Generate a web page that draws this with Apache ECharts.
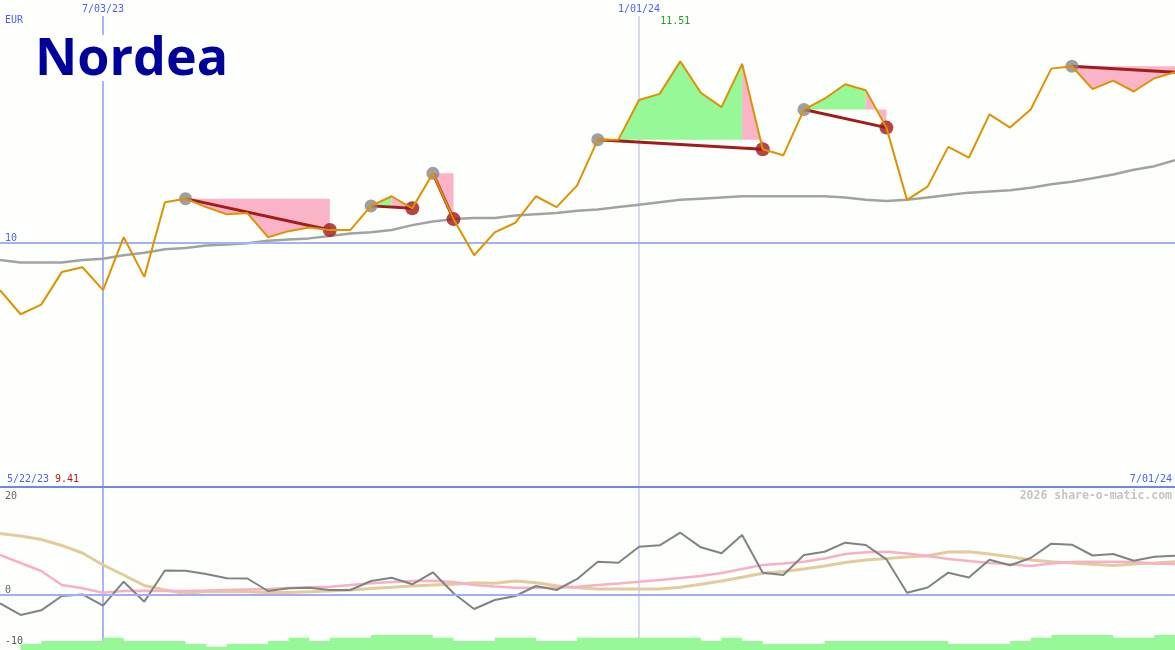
<!DOCTYPE html>
<html><head><meta charset="utf-8">
<script src="https://cdn.jsdelivr.net/npm/echarts@6/dist/echarts.min.js"></script>
<style>html,body{margin:0;padding:0;background:#fdfffd;}#c{width:1175px;height:650px;}</style>
</head><body><div id="c"></div>
<script>
// ---------- data ----------
const dates = ['5/29/23','6/05/23','6/12/23','6/19/23','6/26/23','7/03/23','7/10/23','7/17/23','7/24/23','7/31/23',
 '8/07/23','8/14/23','8/21/23','8/28/23','9/04/23','9/11/23','9/18/23','9/25/23','10/02/23','10/09/23',
 '10/16/23','10/23/23','10/30/23','11/06/23','11/13/23','11/20/23','11/27/23','12/04/23','12/11/23','12/18/23',
 '12/25/23','1/01/24','1/08/24','1/15/24','1/22/24','1/29/24','2/05/24','2/12/24','2/19/24','2/26/24',
 '3/04/24','3/11/24','3/18/24','3/25/24','4/01/24','4/08/24','4/15/24','4/22/24','4/29/24','5/06/24',
 '5/13/24','5/20/24','5/27/24','6/03/24','6/10/24','6/17/24','6/24/24','7/01/24'];
const price = [9.61,9.41,9.49,9.76,9.80,9.61,10.05,9.72,10.34,10.37,
 10.30,10.24,10.25,10.05,10.10,10.13,10.11,10.11,10.31,10.39,
 10.29,10.58,10.20,9.90,10.09,10.17,10.39,10.30,10.48,10.86,
 10.86,11.19,11.24,11.51,11.25,11.13,11.49,10.78,10.73,11.11,
 11.20,11.32,11.27,10.96,10.36,10.47,10.80,10.71,11.07,10.96,
 11.11,11.45,11.47,11.28,11.35,11.26,11.37,11.42];
const movingAvg = [9.86,9.84,9.84,9.84,9.86,9.87,9.90,9.92,9.95,9.96,
 9.98,9.99,10.00,10.02,10.03,10.04,10.06,10.08,10.09,10.11,
 10.15,10.18,10.20,10.21,10.21,10.23,10.24,10.25,10.27,10.28,
 10.30,10.32,10.34,10.36,10.37,10.38,10.39,10.39,10.39,10.39,
 10.39,10.38,10.36,10.35,10.36,10.38,10.40,10.42,10.43,10.44,
 10.46,10.49,10.51,10.54,10.57,10.61,10.64,10.69];
const oscGray = [-1.78,-4.28,-3.28,-0.21,0.11,-2.29,2.85,-1.43,5.25,5.20,
 4.50,3.58,3.53,0.86,1.43,1.56,1.07,1.07,3.00,3.70,
 2.29,4.86,0.36,-3.00,-1.07,-0.21,1.93,1.07,3.43,7.13,
 6.92,10.34,10.64,13.34,10.21,8.93,12.85,4.78,4.28,8.57,
 9.27,11.20,10.71,7.64,0.49,1.61,4.78,3.75,7.56,6.36,
 7.92,10.99,10.77,8.46,8.78,7.34,8.20,8.42];
const oscPink = [8.57,6.85,5.14,2.14,1.43,0.49,0.86,0.90,0.86,0.86,
 0.96,1.07,1.18,1.28,1.50,1.65,1.78,2.14,2.51,2.78,
 3.00,3.06,2.78,2.14,1.82,1.56,1.56,1.56,1.78,2.14,
 2.46,2.85,3.21,3.64,4.07,4.71,5.57,6.42,6.75,7.13,
 7.82,8.78,9.14,9.27,8.89,8.35,7.71,7.28,6.85,6.57,
 6.21,6.75,7.07,7.13,7.13,7.07,6.75,6.64];
const oscTan = [13.17,12.63,11.88,10.60,8.99,6.42,4.28,2.03,1.07,0.32,
 0.75,0.71,0.71,0.54,0.54,0.71,0.86,1.07,1.39,1.65,
 1.93,2.14,2.29,2.63,2.51,3.00,2.63,1.99,1.56,1.28,
 1.28,1.28,1.28,1.65,2.29,3.00,3.79,4.65,5.03,5.57,
 6.21,6.96,7.49,7.82,8.14,8.42,9.21,9.27,8.78,8.20,
 7.49,7.13,6.85,6.57,6.32,6.64,6.85,7.13];
const volume = [0,2.0,3.0,3.0,3.0,4.1,3.0,3.0,3.0,2.0,
 1.1,2.0,2.0,3.0,4.1,3.0,4.1,4.1,5.0,5.0,
 5.0,4.1,3.0,3.0,4.1,4.1,3.0,3.0,4.1,4.1,
 4.1,4.1,4.1,4.1,3.0,4.1,3.0,2.0,2.0,2.0,
 3.0,3.0,3.0,3.0,3.0,3.0,2.0,2.0,2.0,3.0,
 4.1,5.0,5.0,5.0,4.1,4.1,5.0,5.0];
const buyIdx  = [9, 18, 21, 29, 39, 52];
const exitIdx = [16, 20, 22, 37, 43];       // last trade still open
const dateMarks = ['7/03/23', '1/01/24'];
const priceTicks = [10];
const oscTicks = [20, 0];
const oscLowTick = [-10];
const currency = 'EUR';
const rangeStart = '5/22/23';
const rangeEnd = '7/01/24';
const logoText = 'Nordea';
const credit = '2026 share-o-matic.com';

// ---------- styles ----------
const BLUE_TXT = '#4f5ff0', MONO = 'DejaVu Sans Mono';
const GREEN = '#96f896', PINK = '#f9b4c8';

const last = dates.length - 1;
const exits = exitIdx.concat([last]);
const runs = [];
buyIdx.forEach((b, t) => {
  const s = exits[t], entry = price[b];
  let start = b, flag = null;
  for (let k = b; k < s; k++) {
    const f = price[k + 1] >= entry ? 1 : 0;
    if (flag === null) { flag = f; start = k; }
    else if (f !== flag) { runs.push([start, k, entry, flag]); start = k; flag = f; }
  }
  runs.push([start, s, entry, flag]);
});
const trades = buyIdx.map((b, t) => [b, exits[t]]);

const chart = echarts.init(document.getElementById('c'), null, {renderer: 'canvas', width: 1175, height: 650});

const hiddenAxisParts = {splitLine: {show: false}, axisLine: {show: false}, axisTick: {show: false}};
const option = {
  animation: false,
  backgroundColor: '#fdfffd',
  grid: [
    {left: 0, right: 0, top: 0, height: 487},
    {left: 0, right: 0, top: 487, height: 163}
  ],
  xAxis: [
    {type: 'category', data: dates, boundaryGap: false, gridIndex: 0, show: false},
    {type: 'category', data: dates, boundaryGap: false, gridIndex: 1, show: false}
  ],
  yAxis: [
    Object.assign({type: 'value', gridIndex: 0, position: 'left', min: 7.975, max: 12.02,
     axisLabel: {inside: true, customValues: priceTicks, verticalAlign: 'bottom', margin: 5,
                 color: BLUE_TXT, fontFamily: MONO, fontSize: 10}}, hiddenAxisParts),
    Object.assign({type: 'value', gridIndex: 1, position: 'left', min: -11.78, max: 23.13,
     axisLabel: {inside: true, customValues: oscTicks, verticalAlign: 'bottom', margin: 5,
                 color: '#666', fontFamily: MONO, fontSize: 10}}, hiddenAxisParts),
    Object.assign({type: 'value', gridIndex: 1, position: 'left', offset: 0, min: -11.78, max: 23.13,
     axisLabel: {inside: true, customValues: oscLowTick, verticalAlign: 'middle', margin: 5,
                 color: '#555', fontFamily: MONO, fontSize: 10}}, hiddenAxisParts),
    {type: 'value', gridIndex: 1, position: 'right', min: 0, max: 54.33, show: false}
  ],
  series: [
    {type: 'custom', xAxisIndex: 0, yAxisIndex: 0, z: 1, silent: true, data: runs,
     renderItem(params, api) {
       const a = api.value(0), b = api.value(1), entry = api.value(2), f = api.value(3);
       const pts = [api.coord([a, entry])];
       for (let k = a; k <= b; k++) pts.push(api.coord([k, price[k]]));
       pts.push(api.coord([b, entry]));
       return {type: 'polygon', shape: {points: pts}, style: {fill: f ? GREEN : PINK}};
     }},
    {type: 'line', xAxisIndex: 0, yAxisIndex: 0, z: 2, data: movingAvg, symbol: 'none',
     lineStyle: {color: '#a2a2a2', width: 2.5},
     markLine: {silent: true, symbol: ['none', 'none'], label: {show: false},
       lineStyle: {color: '#a4b2f2', width: 2, type: 'solid'}, data: priceTicks.map(v => ({yAxis: v}))}},
    {type: 'custom', xAxisIndex: 0, yAxisIndex: 0, z: 3, silent: true, data: trades,
     renderItem(params, api) {
       const b = api.value(0), s = api.value(1);
       const p1 = api.coord([b, price[b]]), p2 = api.coord([s, price[s]]);
       return {type: 'line', shape: {x1: p1[0], y1: p1[1], x2: p2[0], y2: p2[1]},
               style: {stroke: '#a21c1c', lineWidth: 3}};
     }},
    {type: 'scatter', xAxisIndex: 0, yAxisIndex: 0, z: 4, symbolSize: 13,
     itemStyle: {color: '#878787'}, data: buyIdx.map(i => [i, price[i]])},
    {type: 'scatter', xAxisIndex: 0, yAxisIndex: 0, z: 4, symbolSize: 14,
     itemStyle: {color: '#a01818'}, data: exitIdx.map(i => [i, price[i]])},
    {type: 'line', xAxisIndex: 0, yAxisIndex: 0, z: 5, data: price, symbol: 'none',
     lineStyle: {color: '#df9200', width: 2}},
    // lower panel
    {type: 'line', xAxisIndex: 1, yAxisIndex: 3, z: 1, data: volume, step: 'end', symbol: 'none',
     lineStyle: {width: 0}, areaStyle: {color: GREEN, opacity: 1}},
    {type: 'line', xAxisIndex: 1, yAxisIndex: 1, z: 2, data: oscTan, symbol: 'none',
     lineStyle: {color: '#e3cc9c', width: 3}},
    {type: 'line', xAxisIndex: 1, yAxisIndex: 1, z: 3, data: oscPink, symbol: 'none',
     lineStyle: {color: '#f9b0c6', width: 2.5}},
    {type: 'line', xAxisIndex: 1, yAxisIndex: 1, z: 4, data: oscGray, symbol: 'none',
     lineStyle: {color: '#828282', width: 2},
     markLine: {silent: true, symbol: ['none', 'none'], label: {show: false},
       lineStyle: {color: '#a2aef2', width: 2, type: 'solid'}, data: [{yAxis: 0}]}}
  ]
};
chart.setOption(option);

// ---------- overlay texts & vertical date lines ----------
const W = 1175, H = 650;
const graphics = [];
dateMarks.forEach((d, n) => {
  const x = Math.round(chart.convertToPixel({xAxisIndex: 0}, d));
  graphics.push({type: 'line', z: 0, silent: true,
    shape: {x1: x, y1: 16, x2: x, y2: H},
    style: {stroke: n === 0 ? '#a6b6f4' : '#aeb4e4', lineWidth: n === 0 ? 2 : 1}});
  graphics.push({type: 'text', z: 20, x: x, y: 9,
    style: {text: d, fill: BLUE_TXT, font: '10px ' + MONO, align: 'center', verticalAlign: 'middle'}});
});
const iMax = price.indexOf(Math.max(...price));
const iMin = price.indexOf(Math.min(...price));
const xMax = chart.convertToPixel({xAxisIndex: 0}, iMax);
graphics.push(
  {type: 'rect', z: 15, silent: true, shape: {x: 30, y: 35, width: 206, height: 46}, style: {fill: '#fdfffd'}},
  {type: 'text', z: 16, x: 35, y: 60,
   style: {text: logoText, fill: '#00009a', font: '700 52px "Open Sans"', align: 'left', verticalAlign: 'middle'}},
  {type: 'text', z: 20, x: 5, y: 20,
   style: {text: currency, fill: BLUE_TXT, font: '10px ' + MONO, verticalAlign: 'middle'}},
  {type: 'text', z: 20, x: xMax - 20, y: 21,
   style: {text: price[iMax].toFixed(2), fill: '#1f9f1f', font: '10px ' + MONO, verticalAlign: 'middle'}},
  {type: 'line', z: 6, silent: true, shape: {x1: 0, y1: 487, x2: W, y2: 487},
   style: {stroke: '#6f86f0', lineWidth: 2}},
  {type: 'text', z: 20, x: 7, y: 479,
   style: {text: rangeStart, fill: BLUE_TXT, font: '10px ' + MONO, verticalAlign: 'middle'}},
  {type: 'text', z: 20, x: 55, y: 479,
   style: {text: price[iMin].toFixed(2), fill: '#b01c1c', font: '10px ' + MONO, verticalAlign: 'middle'}},
  {type: 'text', z: 20, x: 1172, y: 479,
   style: {text: rangeEnd, fill: BLUE_TXT, font: '10px ' + MONO, align: 'right', verticalAlign: 'middle'}},
  {type: 'text', z: 20, x: 1172, y: 496,
   style: {text: credit, fill: '#c4c4c4', font: 'bold 11.5px ' + MONO, align: 'right', verticalAlign: 'middle'}}
);
chart.setOption({graphic: graphics});
</script>
</body></html>
